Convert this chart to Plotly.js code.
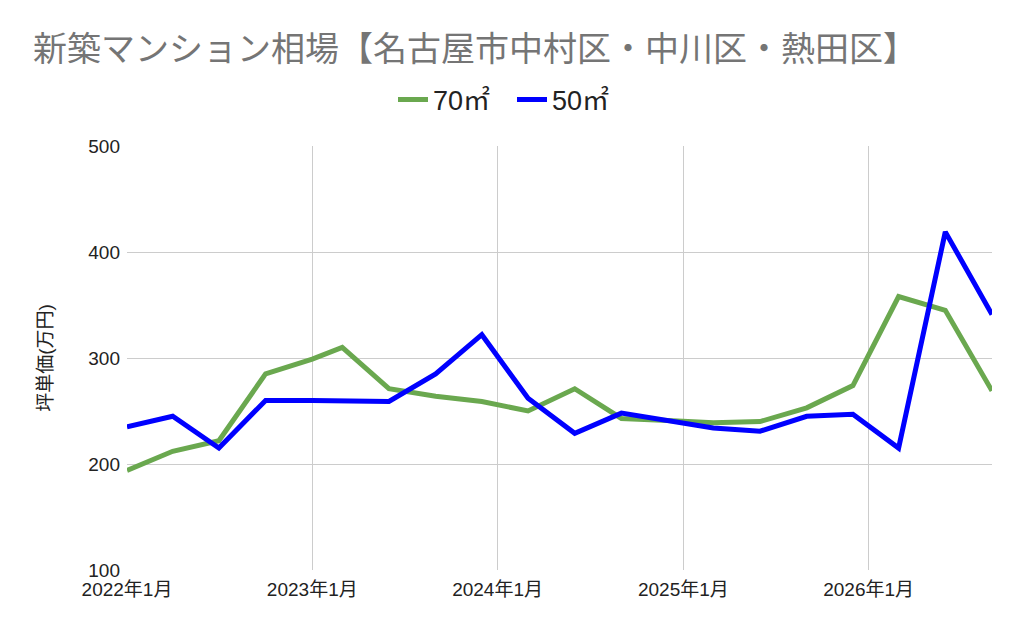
<!DOCTYPE html>
<html>
<head>
<meta charset="utf-8">
<script src="https://cdn.plot.ly/plotly-3.0.1.min.js"></script>
<style>
  html, body { margin: 0; padding: 0; background: #fff; }
  #chart { width: 1024px; height: 633px; }
</style>
</head>
<body>
<div id="chart"></div>
<script>
// 四半期ごとの坪単価（万円）
var dates = ['2022-01-01', '2022-04-01', '2022-07-01', '2022-10-01', '2023-01-01',
  '2023-03-01', '2023-06-01', '2023-09-01', '2023-12-01', '2024-03-01',
  '2024-06-01', '2024-09-01', '2024-12-01', '2025-03-01', '2025-06-01',
  '2025-09-01', '2025-12-01', '2026-03-01', '2026-06-01', '2026-09-01'];
var price70 = [194, 212, 222, 285, 299, 310, 271, 264, 259, 250,
  271, 243, 241, 239, 240, 253, 274, 358, 345, 269];
var price50 = [235, 245, 215, 260, 260, 260, 259, 285, 322, 262,
  229, 248, 241, 234, 231, 245, 247, 215, 419, 341];

var font = '"Liberation Sans", Arial, "Noto Sans CJK JP", sans-serif';

var traces = [
  { x: dates, y: price70, name: '70㎡', type: 'scatter', mode: 'lines',
    line: { color: '#6aa84f', width: 5 } },
  { x: dates, y: price50, name: '50㎡', type: 'scatter', mode: 'lines',
    line: { color: '#0000ff', width: 5 } }
];

var layout = {
  width: 1024,
  height: 633,
  margin: { l: 127, r: 32, t: 146, b: 63 },
  paper_bgcolor: '#fff',
  plot_bgcolor: '#fff',
  font: { family: font, size: 19, color: '#222' },
  title: {
    text: '新築マンション相場【名古屋市中村区・中川区・熱田区】',
    font: { family: '"Noto Sans CJK JP", sans-serif', size: 34, color: '#757575' },
    x: 33 / 1024, xanchor: 'left', xref: 'container',
    y: 1 - 49 / 633, yanchor: 'middle', yref: 'container'
  },
  showlegend: true,
  legend: {
    orientation: 'h',
    x: 0.5, xanchor: 'center', xref: 'container',
    y: 1 - 100 / 633, yanchor: 'middle', yref: 'container',
    font: { size: 27, color: '#222' },
    itemwidth: 30,
    entrywidth: 74,
    entrywidthmode: 'pixels'
  },
  xaxis: {
    type: 'date',
    range: ['2022-01-01', '2026-09-01'],
    tick0: '2022-01-01',
    dtick: 'M12',
    tickformat: '%Y年%-m月',
    showgrid: true,
    gridcolor: '#cccccc',
    showline: false,
    zeroline: false,
    ticks: '',
    ticklabelstandoff: 6,
    tickfont: { size: 19, color: '#222' }
  },
  yaxis: {
    range: [100, 500],
    dtick: 100,
    showgrid: true,
    gridcolor: '#cccccc',
    zeroline: false,
    ticks: '',
    ticklabelstandoff: 6,
    tickfont: { size: 19, color: '#222' },
    title: { text: '坪単価(万円)', font: { size: 19, color: '#222' }, standoff: 30 }
  }
};

Plotly.newPlot('chart', traces, layout, { displayModeBar: false, staticPlot: true });
</script>
</body>
</html>
